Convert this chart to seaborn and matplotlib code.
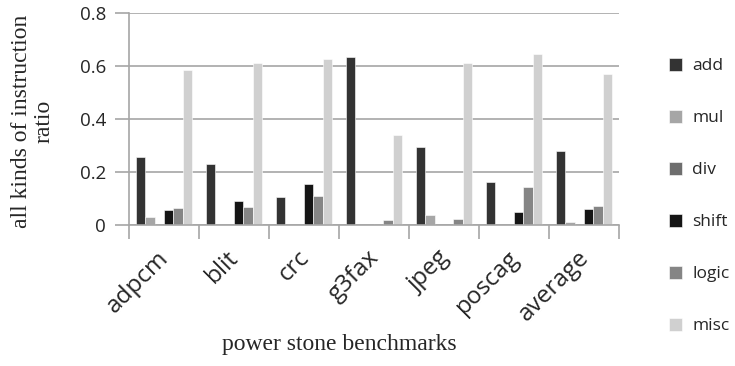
import matplotlib
matplotlib.use("Agg")
import matplotlib.pyplot as plt
import matplotlib.transforms as mtransforms
import seaborn as sns
import pandas as pd

# benchmarks and instruction mix ratios
benchmarks = ["adpcm", "blit", "crc", "g3fax", "jpeg", "poscag", "average"]
kinds = ["add", "mul", "div", "shift", "logic", "misc"]

add = [0.257, 0.231, 0.107, 0.635, 0.295, 0.162, 0.281]
mul = [0.032, 0.0, 0.0, 0.0, 0.040, 0.0, 0.012]
div = [0.0, 0.0, 0.0, 0.0, 0.0, 0.0, 0.0]
shift = [0.056, 0.090, 0.157, 0.005, 0.003, 0.050, 0.060]
logic = [0.066, 0.069, 0.109, 0.020, 0.025, 0.143, 0.073]
misc = [0.585, 0.613, 0.628, 0.340, 0.612, 0.647, 0.570]

colors = ["#333333", "#a6a6a6", "#6e6e6e", "#151515", "#858585", "#d0d0d0"]

rows = []
for k, vals in zip(kinds, [add, mul, div, shift, logic, misc]):
    for b, v in zip(benchmarks, vals):
        rows.append({"bench": b, "kind": k, "ratio": v})
df = pd.DataFrame(rows)

sns.set_style("white")
plt.rcParams["font.family"] = ["Open Sans", "DejaVu Sans"]

fig = plt.figure(figsize=(7.35, 3.66), dpi=100)
ax = fig.add_axes([129 / 735, (366 - 225.3) / 366, 490 / 735, 212.3 / 366])

sns.barplot(data=df, x="bench", y="ratio", hue="kind", order=benchmarks,
            hue_order=kinds, palette=colors, width=0.8, ax=ax,
            edgecolor="white", linewidth=0.4, legend=True)

grid_c = "#a6a6a6"
ax.set_ylim(0, 0.8)
ax.set_yticks([0, 0.2, 0.4, 0.6, 0.8])
ax.set_yticklabels(["0", "0.2", "0.4", "0.6", "0.8"])
ax.set_xlim(-0.5, len(benchmarks) - 0.5)
ax.yaxis.grid(True, color=grid_c, linewidth=1.2)
ax.set_axisbelow(True)
for s in ["top", "right"]:
    ax.spines[s].set_visible(False)
for s in ["bottom", "left"]:
    ax.spines[s].set_color(grid_c)
    ax.spines[s].set_linewidth(1.2)

ax.tick_params(axis="y", left=True, direction="out", length=10, color=grid_c,
               width=1.2, labelsize=13.5, pad=6.5)
ax.set_xticks(range(len(benchmarks)))
ax.set_xticks([i - 0.5 for i in range(len(benchmarks) + 1)], minor=True)
ax.tick_params(axis="x", which="major", bottom=False, length=0, labelsize=17.5, pad=4)
ax.tick_params(axis="x", which="minor", bottom=True, direction="out", length=10,
               color=grid_c, width=1.2)
label_shift = mtransforms.ScaledTranslation(-0.07, -0.15, fig.dpi_scale_trans)
for lab in ax.get_xticklabels():
    lab.set_rotation(45)
    lab.set_ha("right")
    lab.set_va("top")
    lab.set_rotation_mode("anchor")
    lab.set_transform(lab.get_transform() + label_shift)

ax.set_xlabel("power stone benchmarks", family="Liberation Serif", fontsize=17)
ax.xaxis.set_label_coords(0.43, -0.51)
ax.set_ylabel("all kinds of instruction\nratio", family="Liberation Serif",
              fontsize=17, linespacing=1.1)
ax.yaxis.set_label_coords(-0.152, 0.49)

handles, labels = ax.get_legend_handles_labels()
ax.legend_.remove()
fig.legend(handles, labels, loc="upper left", bbox_to_anchor=(662 / 735, 1 - 51 / 366),
           frameon=False, fontsize=12.5, labelspacing=2.05, handlelength=0.75,
           handleheight=0.75, handletextpad=0.6, borderaxespad=0)

fig.savefig("out.png", dpi=100)
